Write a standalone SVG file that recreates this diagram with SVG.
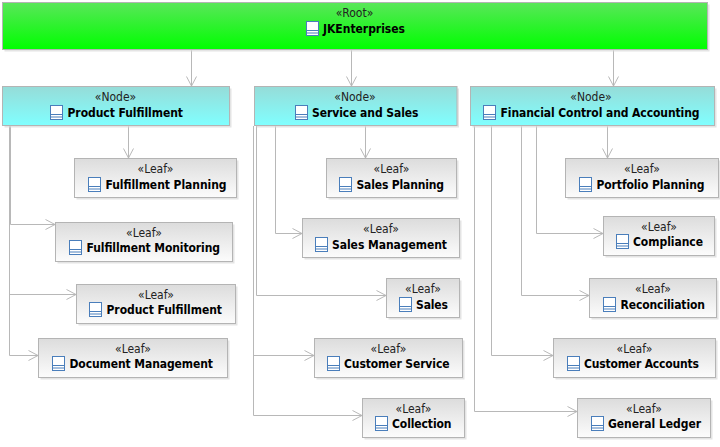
<svg xmlns="http://www.w3.org/2000/svg" xmlns:xlink="http://www.w3.org/1999/xlink" width="720" height="447" viewBox="0 0 720 447">
<style>
text{font-family:"DejaVu Sans Condensed","DejaVu Sans","Noto Sans",sans-serif;fill:#000;font-size:12px}
.s{text-anchor:middle;fill:#222}
.n{font-weight:700}
.box{stroke:#b4b4b4;stroke-width:1}
.shadow{fill:#d8d8d8;opacity:.7}
.root{fill:url(#gr)}
.node{fill:url(#gn)}
.leaf{fill:url(#gl)}
#connectors path{fill:none;stroke:#b8b8b8;stroke-width:1;marker-end:url(#arrow)}
</style>
<defs>
<linearGradient id="gr" x1="0" y1="0" x2="0" y2="1"><stop offset="0" stop-color="#5ae65a"/><stop offset="1" stop-color="#00ff00"/></linearGradient>
<linearGradient id="gn" x1="0" y1="0" x2="0" y2="1"><stop offset="0" stop-color="#96dcd8"/><stop offset="1" stop-color="#80ffff"/></linearGradient>
<linearGradient id="gl" x1="0" y1="0" x2="0" y2="1"><stop offset="0" stop-color="#dcdcdc"/><stop offset="1" stop-color="#fcfcfc"/></linearGradient>
<marker id="arrow" markerUnits="userSpaceOnUse" markerWidth="12" markerHeight="12" refX="10" refY="6" orient="auto"><path d="M0.5 1L10 6L0.5 11" fill="none" stroke="#b8b8b8"/></marker>
<g id="icon"><rect x="0.5" y="0.5" width="12" height="14" fill="#fff" stroke="#4a7ebb"/><path d="M0.5 9.500H12.500M0.5 12H12.500" stroke="#4a7ebb" fill="none"/></g>
</defs>
<g id="connectors">
<path d="M191.5 50V86"/><path d="M351.5 50V86"/><path d="M613.5 50V86"/>
<path d="M128.5 126V158"/>
<path d="M10.5 126V224.500H55"/><path d="M9.5 126V294.5H76"/><path d="M9.5 126V355.5H38"/>
<path d="M365.5 126V158"/>
<path d="M275.5 126V233.5H302"/><path d="M256.5 126V295.5H386"/>
<path d="M253.5 126V355.5H314"/><path d="M253.5 126V415.5H362"/>
<path d="M607.5 126V158"/>
<path d="M536.5 126V233.5H603"/><path d="M521.5 126V295.5H589"/><path d="M491.5 126V355.5H553"/><path d="M474.5 126V411.5H577"/>
</g>
<g id="root"><rect class="shadow" x="4.5" y="4.5" width="705" height="47"/><rect class="box root" x="2.5" y="2.5" width="705" height="47"/><text class="s" x="354.500" y="17">«Root»</text><use xlink:href="#icon" x="306" y="21"/><text class="n" x="323" y="33" textLength="82">JKEnterprises</text></g>
<g id="node-product"><rect class="shadow" x="4.5" y="88.5" width="227" height="39"/><rect class="box node" x="2.5" y="86.5" width="227" height="39"/><text class="s" x="115.5" y="101">«Node»</text><use xlink:href="#icon" x="50" y="105"/><text class="n" x="67.5" y="117" textLength="115.5">Product Fulfillment</text></g>
<g id="node-service"><rect class="shadow" x="256.5" y="88.5" width="202.500" height="39"/><rect class="box node" x="254.5" y="86.5" width="202.500" height="39"/><text class="s" x="355" y="101">«Node»</text><use xlink:href="#icon" x="295" y="105"/><text class="n" x="312" y="117" textLength="106.500">Service and Sales</text></g>
<g id="node-financial"><rect class="shadow" x="472.5" y="88.5" width="244" height="39"/><rect class="box node" x="470.5" y="86.5" width="244" height="39"/><text class="s" x="591" y="101">«Node»</text><use xlink:href="#icon" x="483" y="105"/><text class="n" x="500.500" y="117" textLength="199">Financial Control and Accounting</text></g>
<g id="leaf-fulfillment-planning"><rect class="shadow" x="76.5" y="160.5" width="162" height="39"/><rect class="box leaf" x="74.5" y="158.5" width="162" height="39"/><text class="s" x="155.500" y="173">«Leaf»</text><use xlink:href="#icon" x="88" y="177"/><text class="n" x="105.500" y="189" textLength="121">Fulfillment Planning</text></g>
<g id="leaf-fulfillment-monitoring"><rect class="shadow" x="57.5" y="224.500" width="177" height="39"/><rect class="box leaf" x="55.5" y="222.500" width="177" height="39"/><text class="s" x="144" y="237">«Leaf»</text><use xlink:href="#icon" x="69" y="240"/><text class="n" x="86.500" y="252" textLength="133.500">Fulfillment Monitoring</text></g>
<g id="leaf-product-fulfillment"><rect class="shadow" x="78.5" y="286.500" width="159" height="39"/><rect class="box leaf" x="76.5" y="284.500" width="159" height="39"/><text class="s" x="156" y="299">«Leaf»</text><use xlink:href="#icon" x="89" y="302"/><text class="n" x="106.500" y="314" textLength="115.500">Product Fulfillment</text></g>
<g id="leaf-document-management"><rect class="shadow" x="40.5" y="340.500" width="189" height="39"/><rect class="box leaf" x="38.5" y="338.500" width="189" height="39"/><text class="s" x="133" y="353">«Leaf»</text><use xlink:href="#icon" x="52" y="356"/><text class="n" x="69.500" y="368" textLength="143.500">Document Management</text></g>
<g id="leaf-sales-planning"><rect class="shadow" x="328.5" y="160.500" width="130" height="39"/><rect class="box leaf" x="326.5" y="158.500" width="130" height="39"/><text class="s" x="391.500" y="173">«Leaf»</text><use xlink:href="#icon" x="339" y="177"/><text class="n" x="356.500" y="189" textLength="87.500">Sales Planning</text></g>
<g id="leaf-sales-management"><rect class="shadow" x="304.5" y="220.500" width="157" height="39"/><rect class="box leaf" x="302.5" y="218.500" width="157" height="39"/><text class="s" x="381" y="233">«Leaf»</text><use xlink:href="#icon" x="315" y="237"/><text class="n" x="332" y="249" textLength="115">Sales Management</text></g>
<g id="leaf-sales"><rect class="shadow" x="388.5" y="280.500" width="73" height="39"/><rect class="box leaf" x="386.5" y="278.500" width="73" height="39"/><text class="s" x="423" y="293">«Leaf»</text><use xlink:href="#icon" x="399" y="297"/><text class="n" x="416" y="309" textLength="32">Sales</text></g>
<g id="leaf-customer-service"><rect class="shadow" x="316.5" y="340.500" width="148" height="39"/><rect class="box leaf" x="314.500" y="338.500" width="148" height="39"/><text class="s" x="388.500" y="353">«Leaf»</text><use xlink:href="#icon" x="327" y="356"/><text class="n" x="344" y="368" textLength="105.500">Customer Service</text></g>
<g id="leaf-collection"><rect class="shadow" x="364.5" y="400.500" width="102" height="39"/><rect class="box leaf" x="362.500" y="398.500" width="102" height="39"/><text class="s" x="413.500" y="413">«Leaf»</text><use xlink:href="#icon" x="375" y="416"/><text class="n" x="392" y="428" textLength="59.500">Collection</text></g>
<g id="leaf-portfolio-planning"><rect class="shadow" x="567.5" y="160.500" width="153" height="39"/><rect class="box leaf" x="565.500" y="158.500" width="153" height="39"/><text class="s" x="642" y="173">«Leaf»</text><use xlink:href="#icon" x="579" y="177"/><text class="n" x="596.500" y="189" textLength="108">Portfolio Planning</text></g>
<g id="leaf-compliance"><rect class="shadow" x="605.5" y="218.500" width="111" height="39"/><rect class="box leaf" x="603.500" y="216.500" width="111" height="39"/><text class="s" x="659" y="231">«Leaf»</text><use xlink:href="#icon" x="616" y="234"/><text class="n" x="633" y="246" textLength="70">Compliance</text></g>
<g id="leaf-reconciliation"><rect class="shadow" x="591.5" y="280.500" width="127" height="39"/><rect class="box leaf" x="589.500" y="278.500" width="127" height="39"/><text class="s" x="653" y="293">«Leaf»</text><use xlink:href="#icon" x="603" y="297"/><text class="n" x="620.500" y="309" textLength="84.500">Reconciliation</text></g>
<g id="leaf-customer-accounts"><rect class="shadow" x="555.5" y="340.500" width="162" height="39"/><rect class="box leaf" x="553.500" y="338.500" width="162" height="39"/><text class="s" x="634.500" y="353">«Leaf»</text><use xlink:href="#icon" x="567" y="356"/><text class="n" x="584" y="368" textLength="115">Customer Accounts</text></g>
<g id="leaf-general-ledger"><rect class="shadow" x="579.5" y="400.500" width="133" height="39"/><rect class="box leaf" x="577.500" y="398.500" width="133" height="39"/><text class="s" x="644" y="413">«Leaf»</text><use xlink:href="#icon" x="591" y="416"/><text class="n" x="608" y="428" textLength="93">General Ledger</text></g>
</svg>
